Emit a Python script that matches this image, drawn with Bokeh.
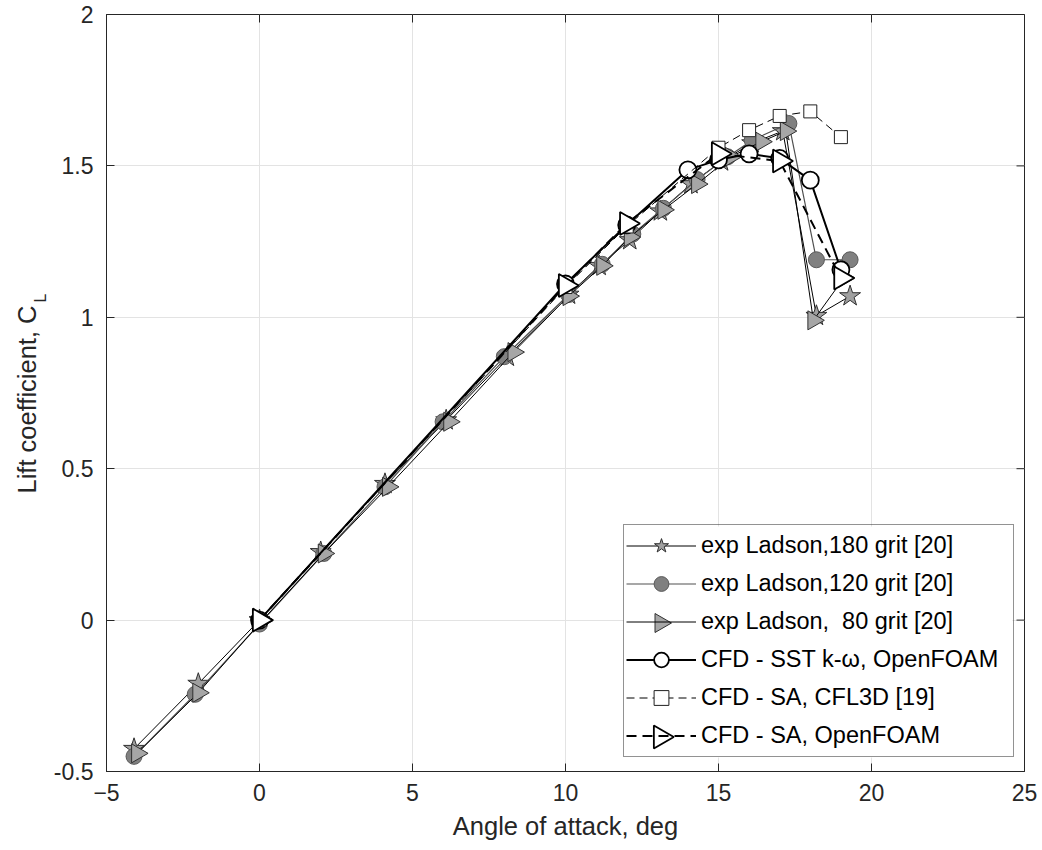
import math
from bokeh.plotting import figure
from bokeh.models import Legend, LegendItem, Title, FixedTicker, Range1d
from bokeh.embed import file_html
from bokeh.resources import INLINE

# ---- data ----
a180 = [-4.1, -2.0, 0.0, 2.0, 4.1, 6.1, 8.1, 10.1, 11.1, 12.1, 13.1, 14.1, 15.1, 16.1, 17.1, 18.2, 19.3]
cl180 = [-0.425, -0.21, 0.0, 0.225, 0.45, 0.66, 0.87, 1.075, 1.17, 1.255, 1.35, 1.44, 1.515, 1.575, 1.615, 1.005, 1.07]

a120 = [-4.1, -2.1, 0.0, 2.1, 4.1, 6.0, 8.0, 10.1, 11.2, 12.2, 13.2, 14.3, 15.3, 16.1, 17.3, 18.2, 19.3]
cl120 = [-0.45, -0.245, -0.013, 0.22, 0.44, 0.655, 0.87, 1.075, 1.175, 1.275, 1.36, 1.455, 1.53, 1.585, 1.64, 1.19, 1.19]

a80 = [-4.0, -2.0, 0.1, 2.1, 4.2, 6.2, 8.3, 10.1, 11.2, 12.1, 13.2, 14.3, 15.4, 16.4, 17.2, 18.1, 19.1]
cl80 = [-0.44, -0.24, 0.0, 0.22, 0.44, 0.655, 0.885, 1.07, 1.17, 1.265, 1.355, 1.44, 1.53, 1.58, 1.615, 0.99, 1.13]

sst_a = [0.0, 10.0, 12.0, 14.0, 15.0, 16.0, 17.0, 18.0, 19.0]
sst_cl = [0.0, 1.11, 1.305, 1.487, 1.52, 1.54, 1.525, 1.453, 1.157]

cfl_a = [0.0, 10.0, 12.0, 15.0, 16.0, 17.0, 18.0, 19.0]
cfl_cl = [0.0, 1.10, 1.30, 1.56, 1.618, 1.665, 1.68, 1.595]

saof_a = [0.0, 10.0, 12.0, 15.0, 17.0, 19.0]
saof_cl = [0.0, 1.105, 1.31, 1.54, 1.516, 1.13]

labels = ["exp Ladson,180 grit [20]",
          "exp Ladson,120 grit [20]",
          "exp Ladson, \u00a080 grit [20]",
          "CFD - SST k-\u03c9, OpenFOAM",
          "CFD - SA, CFL3D [19]",
          "CFD - SA, OpenFOAM"]

x_ticks = [-5, 0, 5, 10, 15, 20, 25]
y_ticks = [-0.5, 0, 0.5, 1, 1.5, 2]
y_tick_labels = ["-0.5", "0", "0.5", "1", "1.5", "2"]
x_label = "Angle of attack, deg"
y_label = "Lift coefficient, C"
y_label_sub = "L"

FONT = "Liberation Sans"
TXT = "#262626"

X0, X1 = -5, 25
Y0, Y1 = -0.5, 2

# ---- layout constants (pixels) ----
W, H = 1040, 848
B_LEFT, B_RIGHT, B_TOP, B_BOTTOM = 106, 16, 14, 77
FRAME_W = W - B_LEFT - B_RIGHT
FRAME_H = H - B_TOP - B_BOTTOM
LEG_X, LEG_Y = 517, 14          # legend offset from the frame's bottom-left
LEG_PAD, LEG_ROW, LEG_SP, LEG_GW, LEG_STAND, LEG_LW = 2, 37, 1, 70, 5, 310
N_ITEMS = len(labels)
LEG_W = 2 * LEG_PAD + LEG_GW + LEG_STAND + LEG_LW
LEG_H = 2 * LEG_PAD + N_ITEMS * LEG_ROW + (N_ITEMS - 1) * LEG_SP


def to_data(px, py):
    """frame pixel offsets (from bottom-left) -> data coordinates"""
    return (X0 + px / FRAME_W * (X1 - X0), Y0 + py / FRAME_H * (Y1 - Y0))


p = figure(width=W, height=H, output_backend="svg", toolbar_location=None,
           x_range=Range1d(X0, X1), y_range=Range1d(Y0, Y1),
           min_border_left=B_LEFT, min_border_right=B_RIGHT,
           min_border_top=B_TOP, min_border_bottom=B_BOTTOM)
p.background_fill_color = "white"
p.border_fill_color = "white"
p.outline_line_color = TXT
p.outline_line_width = 1

for ax in (p.xaxis[0], p.yaxis[0]):
    ax.major_tick_in = 8
    ax.major_tick_out = 0
    ax.minor_tick_in = 0
    ax.minor_tick_out = 0
    ax.axis_line_color = TXT
    ax.major_tick_line_color = TXT
    ax.major_label_text_font = FONT
    ax.major_label_text_font_size = "23px"
    ax.major_label_text_color = TXT
    ax.axis_label_text_font = FONT
    ax.axis_label_text_font_size = "25.5px"
    ax.axis_label_text_font_style = "normal"
    ax.axis_label_text_color = TXT

p.xaxis.ticker = FixedTicker(ticks=x_ticks)
p.yaxis.ticker = FixedTicker(ticks=y_ticks)
p.yaxis.major_label_overrides = {float(t): s for t, s in zip(y_ticks, y_tick_labels)}
p.xaxis.major_label_standoff = 12
p.yaxis.major_label_standoff = 13
p.xaxis.axis_label = x_label
p.xaxis.axis_label_standoff = 8

# y label: subscript panel next to the axis, main text just outside it
p.add_layout(Title(text=y_label_sub, align="left", offset=469, standoff=4,
                   text_font=FONT, text_font_size="16px", text_font_style="normal",
                   text_color=TXT), "left")
p.add_layout(Title(text=y_label, align="left", offset=278, standoff=-27.6,
                   text_font=FONT, text_font_size="25.5px", text_font_style="normal",
                   text_color=TXT), "left")

p.grid.grid_line_color = "#e3e3e3"
p.grid.grid_line_width = 1
p.xgrid.ticker = FixedTicker(ticks=x_ticks)
p.ygrid.ticker = FixedTicker(ticks=y_ticks)

# mirrored inward ticks on the top and right edges (half of each dash is clipped by the frame)
p.scatter(x_ticks, [Y1] * len(x_ticks), marker="dash", angle=math.pi / 2, size=16,
          line_color=TXT, line_width=1)
p.scatter([X1] * len(y_ticks), y_ticks, marker="dash", size=16, line_color=TXT, line_width=1)

# white legend background drawn as a glyph (hides the grid), legend itself is transparent
bx0, by0 = to_data(LEG_X, LEG_Y)
bx1, by1 = to_data(LEG_X + LEG_W, LEG_Y + LEG_H)
p.quad(left=[bx0], right=[bx1], bottom=[by0], top=[by1], fill_color="white",
       line_alpha=0)

STYLE80 = dict(marker="triangle", angle=-math.pi / 2, size=19,
               fill_color="#a6a6a6", line_color="#303030", line_width=1)
STYLE_SA = dict(marker="triangle", angle=-math.pi / 2, size=23,
                fill_color="white", line_color="black", line_width=1.8)

items = []
l1 = p.line(a180, cl180, line_color="black", line_width=1)
s1 = p.scatter(a180, cl180, marker="star", size=22, fill_color="#a0a0a0",
               line_color="#303030", line_width=1)
items.append(LegendItem(label=labels[0], renderers=[l1, s1]))

l2 = p.line(a120, cl120, line_color="#505050", line_width=1.2)
s2 = p.scatter(a120, cl120, marker="circle", size=16, fill_color="#808080",
               line_color="#5a5a5a", line_width=1)
items.append(LegendItem(label=labels[1], renderers=[l2, s2]))

l3 = p.line(a80, cl80, line_color="black", line_width=1)
s3 = p.scatter(a80, cl80, **STYLE80)
items.append(LegendItem(label=labels[2], renderers=[l3]))

l4 = p.line(sst_a, sst_cl, line_color="black", line_width=2)
s4 = p.scatter(sst_a, sst_cl, marker="circle", size=17, fill_color="white",
               line_color="black", line_width=1.8)
items.append(LegendItem(label=labels[3], renderers=[l4, s4]))

l5 = p.line(cfl_a, cfl_cl, line_color="black", line_width=1, line_dash="8 5")
s5 = p.scatter(cfl_a, cfl_cl, marker="square", size=13, fill_color="white",
               line_color="#202020", line_width=1)
items.append(LegendItem(label=labels[4], renderers=[l5, s5]))

l6 = p.line(saof_a, saof_cl, line_color="black", line_width=2, line_dash="10 6")
s6 = p.scatter(saof_a, saof_cl, **STYLE_SA)
items.append(LegendItem(label=labels[5], renderers=[l6]))

legend = Legend(items=items, location=(LEG_X, LEG_Y), margin=0, padding=LEG_PAD,
                spacing=LEG_SP, glyph_width=LEG_GW, glyph_height=LEG_ROW,
                label_height=LEG_ROW, label_width=LEG_LW, label_standoff=LEG_STAND,
                label_text_font=FONT, label_text_font_size="23.5px",
                label_text_color="black", border_line_color=TXT, border_line_width=1,
                background_fill_alpha=0)
p.add_layout(legend, "center")

# legend keys for the right-pointing triangles (Bokeh legends do not rotate markers)
def key_pos(row):
    px = LEG_X + LEG_PAD + LEG_GW / 2
    py = LEG_Y + LEG_H - LEG_PAD - row * (LEG_ROW + LEG_SP) - LEG_ROW / 2
    return to_data(px, py)

kx3, ky3 = key_pos(2)
kx6, ky6 = key_pos(5)
p.scatter([kx3], [ky3], level="annotation", **STYLE80)
p.scatter([kx6], [ky6], level="annotation", **STYLE_SA)

open("out.html", "w").write(file_html(p, INLINE))
